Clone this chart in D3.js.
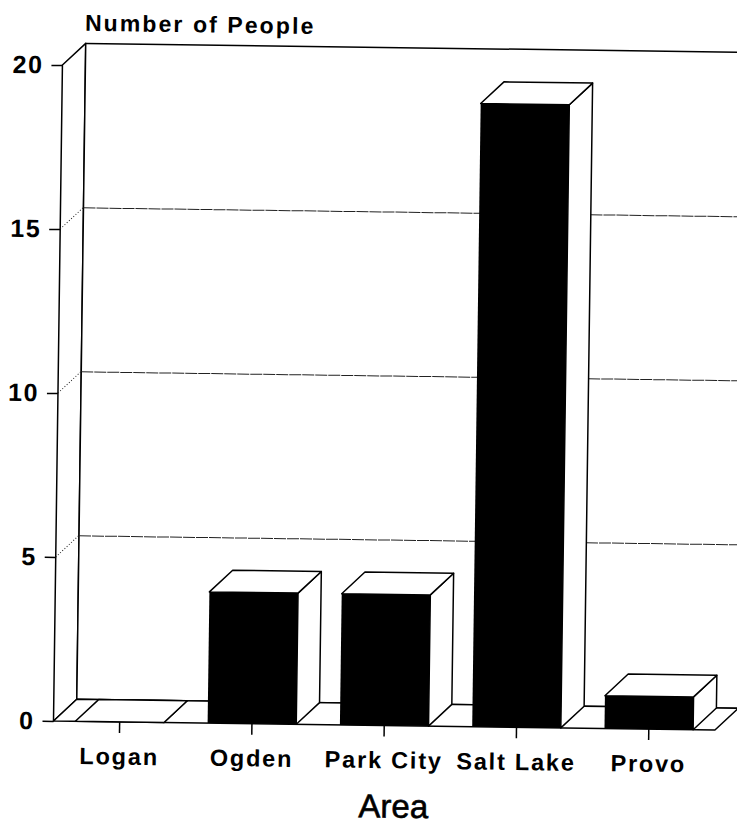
<!DOCTYPE html>
<html>
<head>
<meta charset="utf-8">
<script src="https://cdn.jsdelivr.net/npm/d3@7"></script>
<style>
body { margin: 0; background: #fff; }
text { font-family: "Liberation Sans", Arial, sans-serif; fill: #000; }
</style>
</head>
<body>
<svg id="chart" width="737" height="826"></svg>
<script>
var areas = ["Logan", "Ogden", "Park City", "Salt Lake", "Provo"];
var people = [0, 4, 4, 19, 1];
var yTicks = [0, 5, 10, 15, 20];

var dim = { width: 737, height: 826 }
var plot = { width: 661.5, height: 656 }
// offset of the back wall from the front of the chart
var depth = { x: 23, y: -22 }

var svg = d3.select("#chart");

// the page was scanned slightly crooked, so everything sits in a tilted group
var g = svg.append("g")
    .attr("transform", "translate(53.5,721) rotate(0.78)");

var xScale = d3.scaleBand()
    .domain(areas)
    .range([0, plot.width])
    .paddingInner(0.33)
    .paddingOuter(0.165);

var yScale = d3.scaleLinear()
    .domain([0, 20])
    .range([0, -plot.height]);

function poly(sel, points, fill) {
    return sel.append("polygon")
        .attr("points", points.map(p => p.join(",")).join(" "))
        .attr("fill", fill)
        .attr("stroke", "#000")
        .attr("stroke-width", 1.5)
        .attr("stroke-linejoin", "round");
}

var top20 = yScale(20);

// side wall, back wall and floor
poly(g, [[0, 0], [0, top20], [depth.x, top20 + depth.y], [depth.x, depth.y]], "#fff");
poly(g, [[depth.x, depth.y], [depth.x, top20 + depth.y], [plot.width + depth.x, top20 + depth.y], [plot.width + depth.x, depth.y]], "#fff");

// gridlines
var grid = yTicks.filter(d => d > 0 && d < 20);
g.selectAll(".grid-back").data(grid).enter().append("line")
    .attr("class", "grid-back")
    .attr("x1", depth.x)
    .attr("x2", plot.width + depth.x)
    .attr("y1", d => yScale(d) + depth.y + 0.5)
    .attr("y2", d => yScale(d) + depth.y + 0.5)
    .attr("stroke", "#222")
    .attr("stroke-width", 1)
    .attr("stroke-dasharray", "12 1");
g.selectAll(".grid-side").data(grid).enter().append("line")
    .attr("class", "grid-side")
    .attr("x1", 0)
    .attr("x2", depth.x)
    .attr("y1", d => yScale(d))
    .attr("y2", d => yScale(d) + depth.y)
    .attr("stroke", "#222")
    .attr("stroke-width", 1)
    .attr("stroke-dasharray", "1 2");

poly(g, [[0, 0], [depth.x, depth.y], [plot.width + depth.x, depth.y], [plot.width, 0]], "#fff");

// bars
areas.forEach(function(name, i) {
    var x0 = xScale(name);
    var x1 = x0 + xScale.bandwidth();
    var h = yScale(people[i]);
    var bar = g.append("g");
    poly(bar, [[x1, 0], [x1, h], [x1 + depth.x, h + depth.y], [x1 + depth.x, depth.y]], "#fff");
    poly(bar, [[x0, h], [x0 + depth.x, h + depth.y], [x1 + depth.x, h + depth.y], [x1, h]], "#fff");
    if (people[i] > 0) {
        bar.append("rect")
            .attr("x", x0)
            .attr("y", h)
            .attr("width", xScale.bandwidth())
            .attr("height", -h)
            .attr("fill", "#000");
    }
});

// axes
var yAxis = d3.axisLeft(yScale)
    .tickValues(yTicks)
    .tickSize(11)
    .tickPadding(8);
var yG = g.append("g").call(yAxis);

var xAxis = d3.axisBottom(xScale)
    .tickSize(11)
    .tickPadding(15);
var xG = g.append("g").call(xAxis);

yG.select(".domain").remove();
xG.select(".domain").remove();
g.selectAll(".tick line").attr("stroke", "#000").attr("stroke-width", 1.5);
yG.selectAll("text")
    .style("font-size", "25px")
    .style("font-weight", "700")
    .style("letter-spacing", "1.5px");
xG.selectAll("text")
    .style("font-size", "23.5px")
    .style("font-weight", "700")
    .style("letter-spacing", "1.8px");

// titles
g.append("text")
    .attr("x", 22)
    .attr("y", -690.5)
    .style("font-size", "23px")
    .style("font-weight", "700")
    .style("letter-spacing", "2.1px")
    .text("Number of People");

g.append("text")
    .attr("x", 341)
    .attr("y", 92)
    .attr("text-anchor", "middle")
    .style("font-size", "33px")
    .style("font-weight", "400")
    .style("stroke", "#000")
    .style("stroke-width", "0.6px")
    .text("Area");
</script>
</body>
</html>
